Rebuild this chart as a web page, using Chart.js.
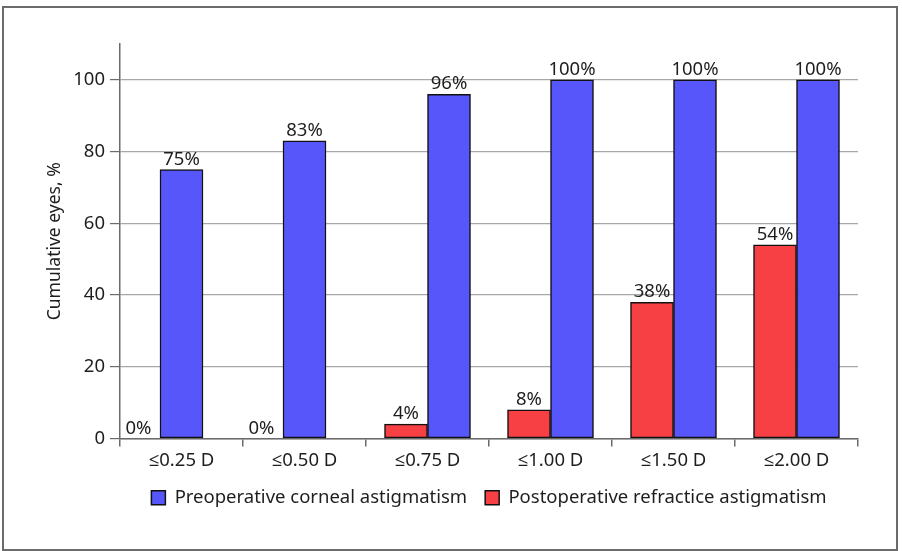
<!DOCTYPE html>
<html>
<head>
<meta charset="utf-8">
<script src="https://cdn.jsdelivr.net/npm/chart.js@4/dist/chart.umd.min.js"></script>
<style>
  html, body { margin: 0; padding: 0; background: #fff; }
  #wrap { position: relative; width: 902px; height: 551px; }
  #frame {
    position: absolute; left: 2px; top: 6px; width: 892px; height: 541px;
    border: 2px solid #6b6b6b; pointer-events: none;
  }
  canvas { display: block; }
</style>
</head>
<body>
<div id="wrap">
  <canvas id="c" width="902" height="551"></canvas>
  <div id="frame"></div>
</div>
<script>
// Cumulative share of eyes within each astigmatism threshold
const categories = ['≤0.25 D', '≤0.50 D', '≤0.75 D', '≤1.00 D', '≤1.50 D', '≤2.00 D'];
const preoperative = [75, 83, 96, 100, 100, 100];
const postoperative = [0, 0, 4, 8, 38, 54];
const yTicks = [0, 20, 40, 60, 80, 100];

const FONT = "'Noto Sans', 'Open Sans', sans-serif";
const TEXT = '#1e1e1e';

// zero-height bars are left out of the layout so the remaining bar sits centred
const postBars = postoperative.map(v => (v === 0 ? null : v));

const valueLabels = {
  id: 'valueLabels',
  afterDatasetsDraw(chart) {
    const { ctx } = chart;
    const yScale = chart.scales.y;
    const postMeta = chart.getDatasetMeta(0);
    const preMeta = chart.getDatasetMeta(1);
    ctx.save();
    ctx.font = `18.5px ${FONT}`;
    ctx.fillStyle = TEXT;
    ctx.textAlign = 'center';
    ctx.textBaseline = 'alphabetic';
    preMeta.data.forEach((bar, i) => {
      ctx.fillText(preoperative[i] + '%', bar.x, bar.y - 5);
    });
    postMeta.data.forEach((bar, i) => {
      const v = postoperative[i];
      let x = bar.x;
      if (v === 0) {
        const pb = preMeta.data[i];
        x = pb.x - pb.width;
      }
      ctx.fillText(v + '%', x, yScale.getPixelForValue(v) - 5);
    });
    ctx.restore();
  }
};

new Chart(document.getElementById('c'), {
  type: 'bar',
  data: {
    labels: categories,
    datasets: [
      {
        label: 'Postoperative refractice astigmatism',
        data: postBars,
        backgroundColor: '#f74043',
        borderColor: '#111',
        borderWidth: 1.5,
        borderSkipped: false
      },
      {
        label: 'Preoperative corneal astigmatism',
        data: preoperative,
        backgroundColor: '#5656fa',
        borderColor: '#111',
        borderWidth: 1.5,
        borderSkipped: false
      }
    ]
  },
  options: {
    responsive: false,
    animation: false,
    skipNull: true,
    barThickness: 43,
    layout: { padding: { top: 44, right: 44, left: 0, bottom: 34 } },
    scales: {
      x: {
        offset: true,
        grid: {
          offset: true,
          drawOnChartArea: false,
          drawTicks: true,
          tickLength: 8,
          color: '#6b6b6b',
          lineWidth: 1.5
        },
        border: { color: '#6b6b6b', width: 1.5 },
        ticks: { color: TEXT, font: { family: FONT, size: 18.5 }, padding: 3 },
        afterFit(scale) { scale.height = 32; }
      },
      y: {
        min: 0,
        max: 110,
        afterBuildTicks(scale) {
          scale.ticks = yTicks.map(v => ({ value: v }));
        },
        grid: {
          color: '#a8a8a8',
          lineWidth: 1.2,
          tickLength: 10,
          tickColor: '#6b6b6b'
        },
        border: { color: '#6b6b6b', width: 1.5 },
        ticks: { color: TEXT, font: { family: FONT, size: 18.5 }, padding: 5 },
        title: {
          display: true,
          text: 'Cumulative eyes, %',
          color: TEXT,
          font: { family: FONT, size: 17.5 },
          padding: { top: 45, bottom: 0 }
        },
        afterFit(scale) { scale.width = 120; }
      }
    },
    plugins: {
      legend: {
        position: 'bottom',
        fullSize: false,
        labels: {
          color: TEXT,
          font: { family: FONT, size: 18.5 },
          boxWidth: 14,
          boxHeight: 14,
          padding: 18,
          sort: (a, b) => b.datasetIndex - a.datasetIndex
        }
      },
      tooltip: { enabled: false }
    }
  },
  plugins: [valueLabels]
});
</script>
</body>
</html>
